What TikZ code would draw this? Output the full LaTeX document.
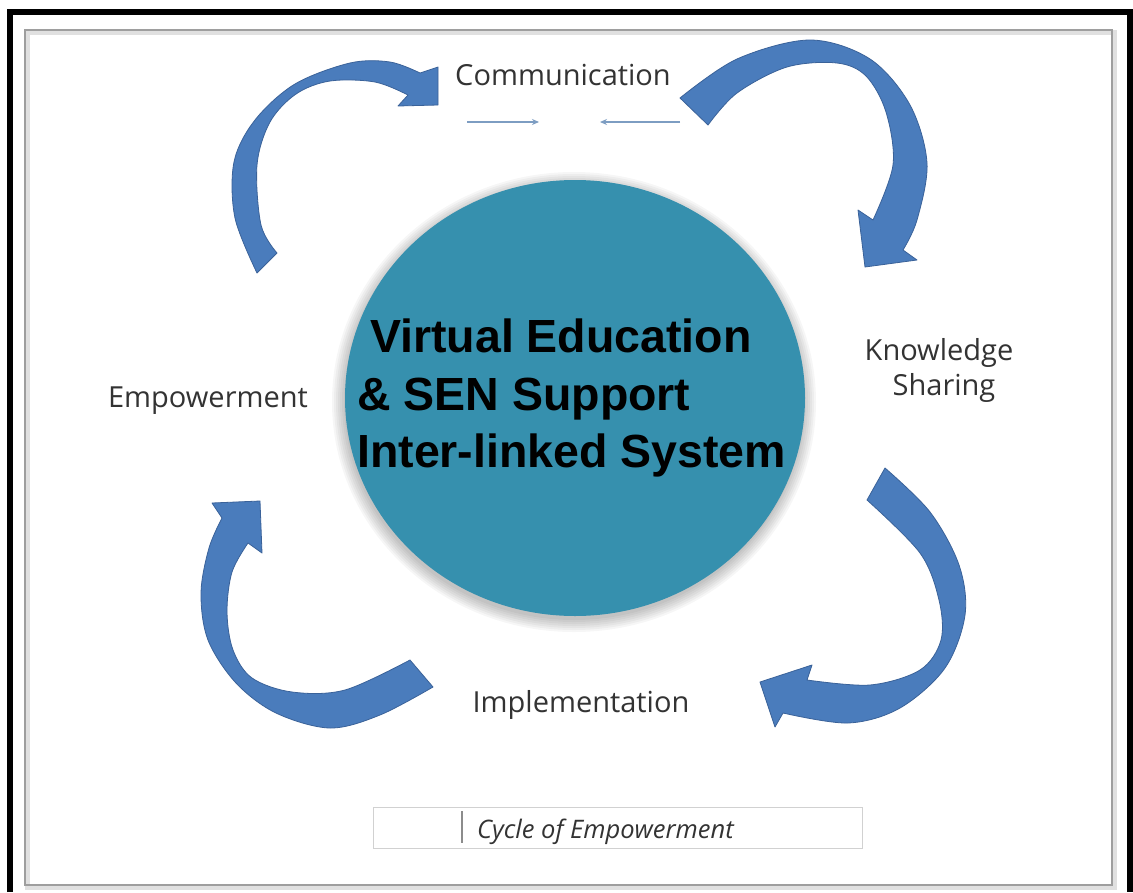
\documentclass[tikz,border=0pt]{standalone}
\usepackage{fontspec}
\setmainfont{Open Sans}
\newfontfamily\arialfont{Liberation Sans}
\usetikzlibrary{arrows.meta,shapes.geometric}
\definecolor{arrowblue}{HTML}{4A7CBC}
\definecolor{arrowedge}{HTML}{3A6299}
\definecolor{discteal}{HTML}{3690AE}
\definecolor{labelgray}{HTML}{333333}
\definecolor{thinblue}{HTML}{7D9DC2}
\tikzset{
  blockarrow/.style={fill=arrowblue, draw=arrowedge, line width=0.8pt, line join=round},
  edgecurve/.style={smooth, tension=0.55},
  cyclelabel/.style={text=labelgray, font=\fontsize{29}{35}\selectfont, inner sep=0pt, anchor=base},
  hubline/.style={text=black, font=\arialfont\bfseries\fontsize{46.5}{57}\selectfont, inner sep=0pt, anchor=base west},
  smallarrow/.style={draw=thinblue, line width=1.6pt, -{Stealth[length=7pt,width=6pt]}},
}
\begin{document}
\begin{tikzpicture}[x=1pt,y=-1pt]
\useasboundingbox (0,0) rectangle (1133,892);
\fill[white] (0,0) rectangle (1133,892);
% outer black frame
\draw[black, line width=6pt] (10,892) -- (10,12) -- (1130,12) -- (1130,892);
% inner gray frame with soft shadow
\draw[black!12, line width=5pt] (27,32) rectangle (1114,887);
\draw[black!38, line width=2.6pt] (25,30) rectangle (1112,885);

% central disc with soft shadow
\foreach \i in {2,4,...,14} \fill[black, opacity=0.035] (574,402) ellipse ({228+\i} and {216+\i});
\node[ellipse, fill=discteal, minimum width=460pt, minimum height=436pt, inner sep=0pt] (hub) at (575,398) {};
\node[hubline] (hubA) at (357,352) {\ Virtual Education};
\node[hubline] (hubB) at (357,410) {\& SEN Support};
\node[hubline] (hubC) at (357,467) {Inter-linked System};

% top-left curved arrow
\filldraw[blockarrow] plot[edgecurve] coordinates {(257,273) (235,218) (234,162) (255,120) (295,84) (350,63) (390,62) (420,73)}
  -- (438,67) -- (438,105) -- (398,106)
  -- plot[edgecurve] coordinates {(408,95) (375,82) (330,81) (296,94) (270,122) (257,165) (261,225) (277,253)} -- cycle;

% top-right curved arrow
\filldraw[blockarrow] plot[edgecurve] coordinates {(680,98) (737,59) (810,40) (870,59) (910,105) (927,163) (917,220) (903,250)}
  -- (917,260) -- (865,267) -- (858,210)
  -- plot[edgecurve] coordinates {(873,220) (893,165) (886,112) (866,76) (837,63) (787,67) (737,93) (708,125)} -- cycle;

% bottom-right curved arrow
\filldraw[blockarrow] plot[edgecurve] coordinates {(885,468) (930,512) (959,565) (965,615) (945,668) (900,708) (848,723) (783,713)}
  -- (775,727) -- (760,682) -- (812,665)
  -- plot[edgecurve] coordinates {(807,680) (870,685) (920,670) (941,640) (939,600) (920,553) (867,500)} -- cycle;

% bottom-left curved arrow
\filldraw[blockarrow] (212,503) -- (260,501) -- (262,553)
  -- plot[edgecurve] coordinates {(248,543) (232,572) (227,612) (233,650) (252,678) (292,692) (345,690) (410,660)}
  -- plot[edgecurve] coordinates {(433,687) (380,715) (330,728) (276,713) (236,683) (208,640) (201,593) (209,548) (222,518)} -- cycle;

% cycle labels
\node[cyclelabel] (comm) at (563,85) {Communication};
\node[cyclelabel] (empow) at (208,407) {Empowerment};
\node[cyclelabel] (impl) at (581,712) {Implementation};
\node[cyclelabel] (know) at (939,360) {Knowledge};
\node[cyclelabel] (share) at (944,395) {Sharing};

% small arrows under Communication
\coordinate (la) at (467,122);
\coordinate (lb) at (539,122);
\coordinate (ra) at (680,122);
\coordinate (rb) at (600,122);
\draw[smallarrow] (la) -- (lb);
\draw[smallarrow] (ra) -- (rb);

% caption box
\node[draw=black!18, line width=1pt, minimum width=489pt, minimum height=41pt, inner sep=0pt] (capbox) at (617.5,827.5) {};
\draw[black!45, line width=1.6pt] (462,811) -- (462,843);
\node[text=labelgray, font=\itshape\fontsize{25.5}{30}\selectfont, inner sep=0pt, anchor=base west] (caption) at (477,838) {Cycle of Empowerment};
\end{tikzpicture}
\end{document}
